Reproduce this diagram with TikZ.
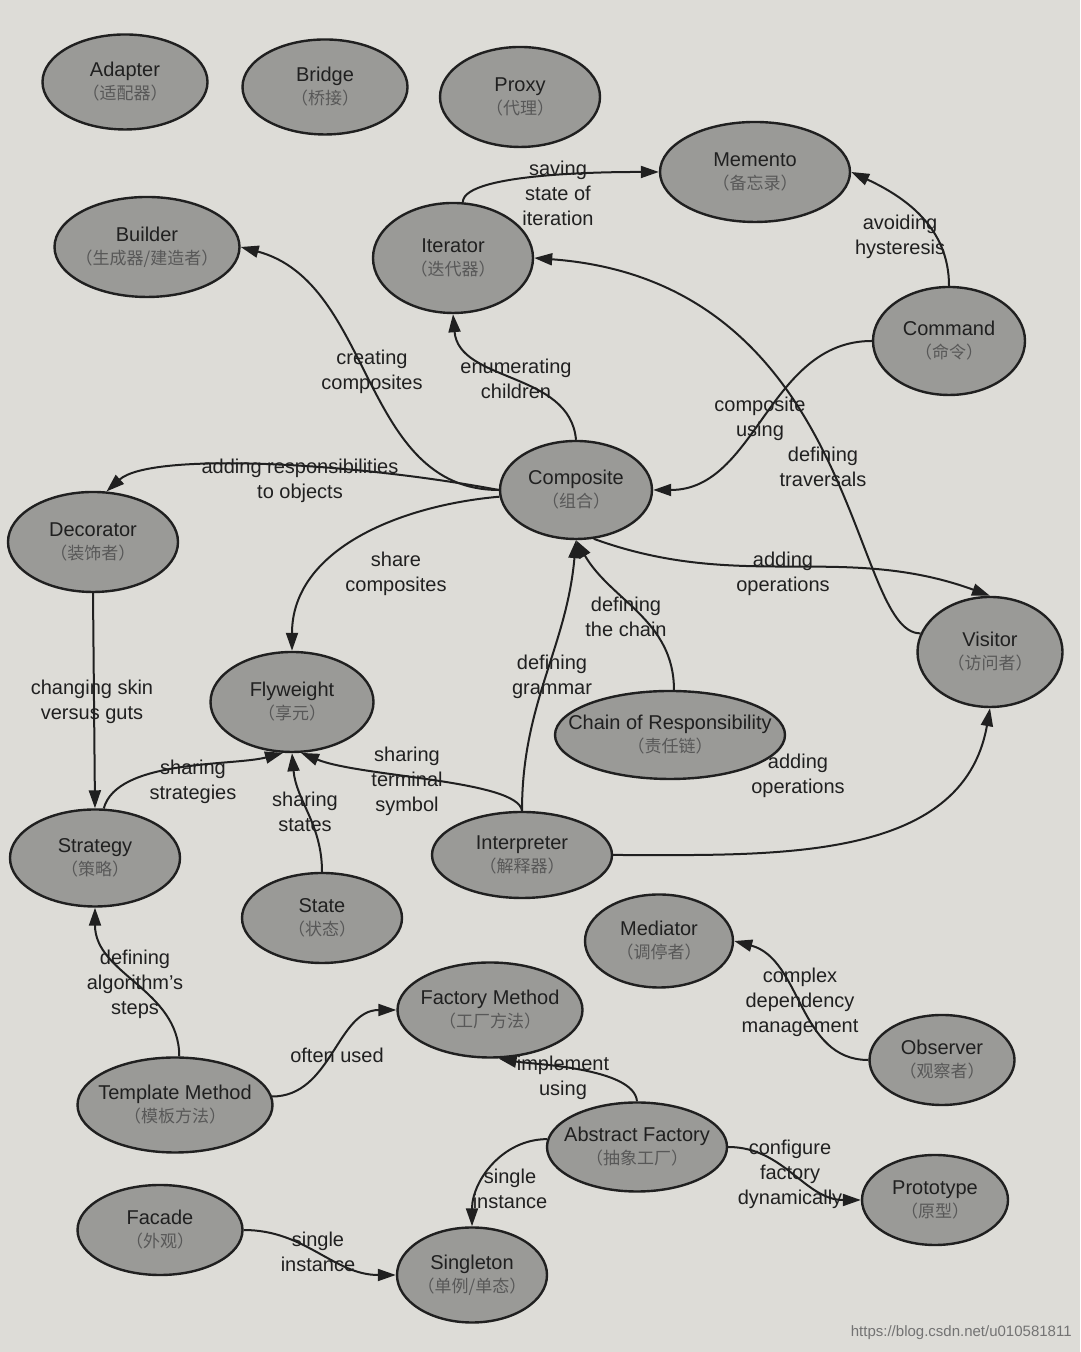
\documentclass[tikz,border=0pt]{standalone}
\usepackage{fontspec}
\setmainfont{Liberation Sans}
\newfontfamily\cjk{Noto Sans CJK SC}
\usetikzlibrary{shapes.geometric, arrows.meta}
\definecolor{paper}{RGB}{221,220,215}
\definecolor{patgray}{RGB}{154,154,151}
\definecolor{ink}{RGB}{32,32,32}
\newcommand{\zh}[1]{{\cjk\fontsize{8.5}{10}\selectfont\color{ink!75}#1}}
\tikzset{
    pat/.style={ellipse, draw=ink, line width=1.2pt, fill=patgray, inner sep=0pt},
    pname/.style={font=\fontsize{10}{11.5}\selectfont, align=center, text=ink},
    rel/.style={draw=ink, line width=1pt, -{Triangle[length=9pt,width=6pt]}},
    lbl/.style={font=\fontsize{10}{12.5}\selectfont, align=center, text=ink, inner sep=0pt}
}

\begin{document}
\begin{tikzpicture}[x=0.5pt, y=0.5pt]
    \fill[paper] (0,0) rectangle (1080,1352);
    \useasboundingbox (0,0) rectangle (1080,1352);

    % patterns
    \node[pat, minimum width=82.5pt, minimum height=47.5pt, label={[pname]center:{Adapter\\\zh{（适配器）}}}] (adapter) at (125,1270) {};
    \node[pat, minimum width=82.5pt, minimum height=47.5pt, label={[pname]center:{Bridge\\\zh{（桥接）}}}] (bridge) at (325,1265) {};
    \node[pat, minimum width=80pt, minimum height=50pt, label={[pname]center:{Proxy\\\zh{（代理）}}}] (proxy) at (520,1255) {};
    \node[pat, minimum width=95pt, minimum height=50pt, label={[pname]center:{Memento\\\zh{（备忘录）}}}] (memento) at (755,1180) {};
    \node[pat, minimum width=92.5pt, minimum height=50pt, label={[pname]center:{Builder\\\zh{（生成器/建造者）}}}] (builder) at (147,1105) {};
    \node[pat, minimum width=80pt, minimum height=55pt, label={[pname]center:{Iterator\\\zh{（迭代器）}}}] (iterator) at (453,1094) {};
    \node[pat, minimum width=76pt, minimum height=54pt, label={[pname]center:{Command\\\zh{（命令）}}}] (command) at (949,1011) {};
    \node[pat, minimum width=76pt, minimum height=49pt, label={[pname]center:{Composite\\\zh{（组合）}}}] (composite) at (576,862) {};
    \node[pat, minimum width=85pt, minimum height=50pt, label={[pname]center:{Decorator\\\zh{（装饰者）}}}] (decorator) at (93,810) {};
    \node[pat, minimum width=81.5pt, minimum height=50pt, label={[pname]center:{Flyweight\\\zh{（享元）}}}] (flyweight) at (292,650) {};
    \node[pat, minimum width=72.5pt, minimum height=55pt, label={[pname]center:{Visitor\\\zh{（访问者）}}}] (visitor) at (990,700) {};
    \node[pat, minimum width=115pt, minimum height=44pt, label={[pname]center:{Chain of Responsibility\\\zh{（责任链）}}}] (chain) at (670,617) {};
    \node[pat, minimum width=85pt, minimum height=48.5pt, label={[pname]center:{Strategy\\\zh{（策略）}}}] (strategy) at (95,494) {};
    \node[pat, minimum width=90pt, minimum height=43pt, label={[pname]center:{Interpreter\\\zh{（解释器）}}}] (interpreter) at (522,497) {};
    \node[pat, minimum width=80pt, minimum height=45pt, label={[pname]center:{State\\\zh{（状态）}}}] (state) at (322,434) {};
    \node[pat, minimum width=74pt, minimum height=46.5pt, label={[pname]center:{Mediator\\\zh{（调停者）}}}] (mediator) at (659,411) {};
    \node[pat, minimum width=92.5pt, minimum height=47.5pt, label={[pname]center:{Factory Method\\\zh{（工厂方法）}}}] (factory) at (490,342) {};
    \node[pat, minimum width=72.5pt, minimum height=45pt, label={[pname]center:{Observer\\\zh{（观察者）}}}] (observer) at (942,292) {};
    \node[pat, minimum width=97.5pt, minimum height=47.5pt, label={[pname]center:{Template Method\\\zh{（模板方法）}}}] (template) at (175,247) {};
    \node[pat, minimum width=90pt, minimum height=44.5pt, label={[pname]center:{Abstract Factory\\\zh{（抽象工厂）}}}] (abstract) at (637,205) {};
    \node[pat, minimum width=73pt, minimum height=45pt, label={[pname]center:{Prototype\\\zh{（原型）}}}] (prototype) at (935,152) {};
    \node[pat, minimum width=82.5pt, minimum height=45pt, label={[pname]center:{Facade\\\zh{（外观）}}}] (facade) at (160,122) {};
    \node[pat, minimum width=75pt, minimum height=47.5pt, label={[pname]center:{Singleton\\\zh{（单例/单态）}}}] (singleton) at (472,77) {};

    % relations
    \draw[rel] (iterator.80) to[out=90, in=180, looseness=0.4] (memento.west);
    \draw[rel] (command.north) to[out=90, in=-25] (memento.east);
    \draw[rel] (composite.west) to[out=180, in=-15] (builder.east);
    \draw[rel] (composite.north) to[out=95, in=-85] (iterator.south);
    \draw[rel] (command.west) to[out=180, in=0] (composite.east);
    \draw[rel] (visitor.165) .. controls (850,718) and (860,1070) .. (iterator.east);
    \draw[rel] (composite.west) .. controls (350,890) and (150,900) .. (decorator.75);
    \draw[rel] (composite.185) to[out=185, in=90] (flyweight.north);
    \draw[rel] (composite.-70) to[out=-20, in=160] (visitor.north);
    \draw[rel] (chain.85) to[out=90, in=-60] (composite.south);
    \draw[rel] (interpreter.north) to[out=90, in=-95] (composite.south);
    \draw[rel] (interpreter.north) .. controls (518,572) and (360,575) .. (flyweight.-80);
    \draw[rel] (interpreter.east) to[out=0, in=-100] (visitor.south);
    \draw[rel] (decorator.south) -- (strategy.north);
    \draw[rel] (strategy.80) to[out=75, in=195, looseness=0.7] (flyweight.-100);
    \draw[rel] (state.north) to[out=90, in=-85] (flyweight.south);
    \draw[rel] (template.85) to[out=90, in=-90] (strategy.south);
    \draw[rel] (template.5) to[out=0, in=180] (factory.west);
    \draw[rel] (abstract.north) to[out=95, in=-10, looseness=0.6] (factory.-80);
    \draw[rel] (observer.west) to[out=180, in=-15] (mediator.east);
    \draw[rel] (abstract.175) to[out=180, in=90] (singleton.north);
    \draw[rel] (abstract.east) to[out=0, in=180] (prototype.west);
    \draw[rel] (facade.east) to[out=0, in=180] (singleton.west);

    % relation labels
    \node[lbl] (l-save) at (558,1159) {saving\\state of\\iteration};
    \node[lbl] (l-hyst) at (900,1115) {avoiding\\hysteresis};
    \node[lbl] (l-create) at (372,980) {creating\\composites};
    \node[lbl] (l-enum) at (516,973) {enumerating\\children};
    \node[lbl] (l-using) at (760,933) {composite\\using};
    \node[lbl] (l-trav) at (823,885) {defining\\traversals};
    \node[lbl] (l-resp) at (300,871) {adding responsibilities\\to objects};
    \node[lbl] (l-share) at (396,778) {share\\composites};
    \node[lbl] (l-addop1) at (783,778) {adding\\operations};
    \node[lbl] (l-chain) at (626,735) {defining\\the chain};
    \node[lbl] (l-gram) at (552,675) {defining\\grammar};
    \node[lbl] (l-term) at (407,571) {sharing\\terminal\\symbol};
    \node[lbl] (l-addop2) at (798,576) {adding\\operations};
    \node[lbl] (l-skin) at (92,650) {changing skin\\versus guts};
    \node[lbl] (l-strat) at (193,570) {sharing\\strategies};
    \node[lbl] (l-states) at (305,540) {sharing\\states};
    \node[lbl] (l-steps) at (135,368) {defining\\algorithm's\\steps};
    \node[lbl] (l-often) at (337,297) {often used};
    \node[lbl] (l-impl) at (563,274) {implement\\using};
    \node[lbl] (l-dep) at (800,350) {complex\\dependency\\management};
    \node[lbl] (l-single1) at (510,163) {single\\instance};
    \node[lbl] (l-dyn) at (790,178) {configure\\factory\\dynamically};
    \node[lbl] (l-single2) at (318,100) {single\\instance};

    \node[anchor=east, inner sep=0pt, font=\fontsize{7.5}{9}\selectfont, text=black!55] (mark) at (1072,19) {https://blog.csdn.net/u010581811};
\end{tikzpicture}
\end{document}
